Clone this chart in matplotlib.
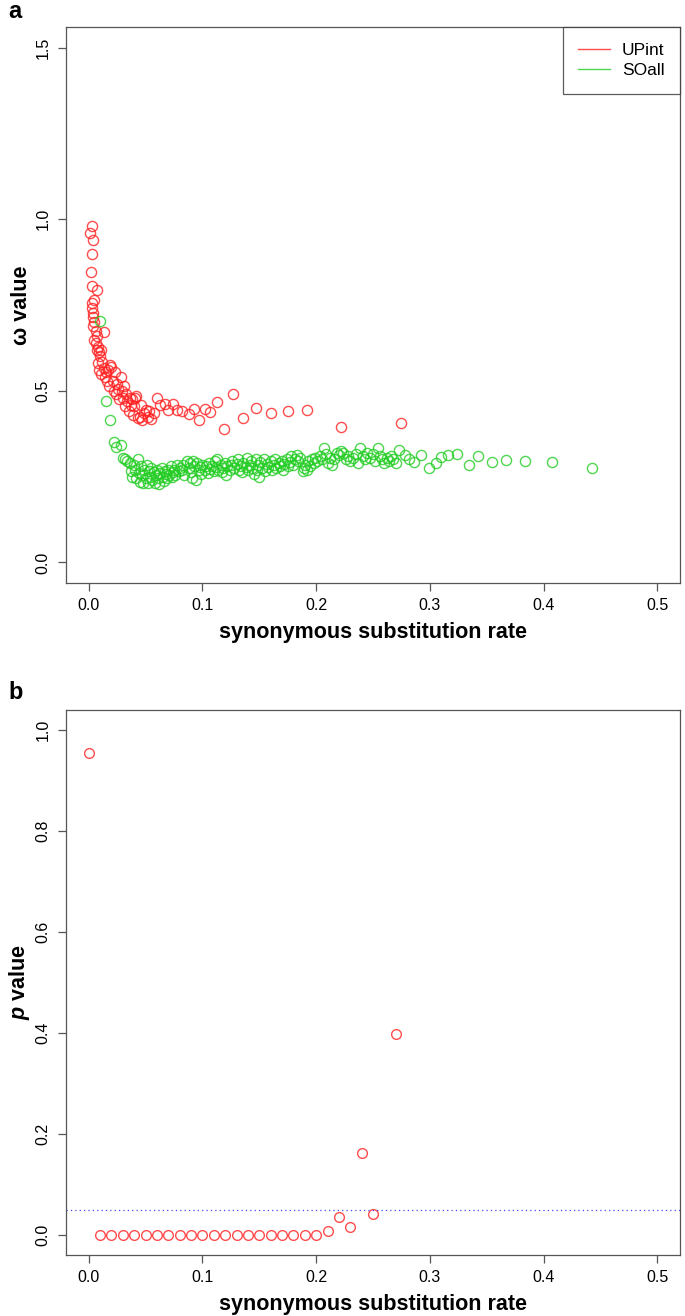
import numpy as np
import matplotlib.pyplot as plt
from matplotlib.lines import Line2D

# ---------------------------------------------------------------------------
# Données panneau a : omega en fonction du taux de substitution synonyme
# ---------------------------------------------------------------------------

upint_ds = [0.001, 0.0026, 0.0035, 0.0026, 0.0018, 0.0026, 0.007, 0.0026, 0.005, 0.003,
            0.004, 0.004, 0.005, 0.004, 0.006, 0.007, 0.005, 0.006, 0.008, 0.007,
            0.009, 0.010, 0.011, 0.013, 0.012, 0.008, 0.009, 0.011, 0.013, 0.014,
            0.015, 0.016, 0.017, 0.018, 0.019, 0.020, 0.021, 0.022, 0.023, 0.024,
            0.025, 0.026, 0.027, 0.028, 0.029, 0.030, 0.031, 0.032, 0.033, 0.034,
            0.035, 0.036, 0.037, 0.038, 0.039, 0.040, 0.041, 0.042, 0.043, 0.045,
            0.046, 0.047, 0.049, 0.050, 0.052, 0.053, 0.055, 0.057, 0.060, 0.063,
            0.067, 0.070, 0.074, 0.078, 0.082, 0.088, 0.093, 0.097, 0.102, 0.107,
            0.113, 0.119, 0.127, 0.136, 0.147, 0.160, 0.175, 0.192, 0.222, 0.275]
upint_w = [0.960, 0.979, 0.939, 0.899, 0.846, 0.806, 0.794, 0.757, 0.765, 0.742,
           0.728, 0.715, 0.700, 0.688, 0.675, 0.660, 0.648, 0.638, 0.628, 0.618,
           0.612, 0.600, 0.620, 0.670, 0.585, 0.580, 0.560, 0.548, 0.565, 0.540,
           0.555, 0.530, 0.560, 0.515, 0.575, 0.570, 0.530, 0.500, 0.555, 0.490,
           0.520, 0.505, 0.475, 0.540, 0.500, 0.480, 0.515, 0.455, 0.490, 0.470,
           0.440, 0.480, 0.460, 0.475, 0.430, 0.455, 0.480, 0.485, 0.420, 0.424,
           0.460, 0.415, 0.435, 0.445, 0.425, 0.440, 0.418, 0.435, 0.480, 0.459,
           0.463, 0.445, 0.463, 0.443, 0.440, 0.431, 0.446, 0.414, 0.446, 0.437,
           0.466, 0.389, 0.492, 0.421, 0.450, 0.436, 0.442, 0.445, 0.395, 0.407]

soall_ds = [0.0096, 0.015, 0.019, 0.022, 0.024, 0.028, 0.030, 0.032, 0.034, 0.036,
            0.037, 0.038, 0.040, 0.041, 0.042, 0.043, 0.044, 0.045, 0.046, 0.047,
            0.048, 0.049, 0.050, 0.051, 0.052, 0.053, 0.054, 0.055, 0.056, 0.057,
            0.058, 0.059, 0.060, 0.061, 0.062, 0.063, 0.064, 0.065, 0.066, 0.067,
            0.068, 0.069, 0.070, 0.071, 0.072, 0.073, 0.074, 0.075, 0.076, 0.078,
            0.079, 0.080, 0.082, 0.083, 0.084, 0.086, 0.088, 0.089, 0.090, 0.091,
            0.092, 0.093, 0.094, 0.095, 0.097, 0.098, 0.099, 0.100, 0.102, 0.103,
            0.105, 0.106, 0.107, 0.108, 0.110, 0.111, 0.112, 0.113, 0.114, 0.116,
            0.117, 0.118, 0.120, 0.121, 0.122, 0.124, 0.125, 0.126, 0.128, 0.130,
            0.131, 0.132, 0.134, 0.135, 0.136, 0.138, 0.139, 0.140, 0.142, 0.143,
            0.144, 0.145, 0.147, 0.148, 0.149, 0.150, 0.151, 0.152, 0.154, 0.155,
            0.157, 0.158, 0.160, 0.161, 0.163, 0.164, 0.165, 0.167, 0.168, 0.170,
            0.171, 0.172, 0.174, 0.175, 0.177, 0.178, 0.180, 0.181, 0.183, 0.184,
            0.186, 0.188, 0.189, 0.190, 0.192, 0.193, 0.195, 0.196, 0.198, 0.199,
            0.201, 0.203, 0.205, 0.207, 0.209, 0.210, 0.212, 0.214, 0.216, 0.218,
            0.220, 0.222, 0.224, 0.226, 0.228, 0.230, 0.232, 0.235, 0.237, 0.239,
            0.241, 0.243, 0.245, 0.247, 0.250, 0.252, 0.254, 0.256, 0.258, 0.260,
            0.262, 0.264, 0.266, 0.268, 0.270, 0.273, 0.278, 0.282, 0.286, 0.292,
            0.299, 0.305, 0.310, 0.316, 0.324, 0.334, 0.342, 0.355, 0.367, 0.384,
            0.407, 0.443]
soall_w = [0.704, 0.471, 0.415, 0.351, 0.337, 0.343, 0.305, 0.300, 0.295, 0.290,
           0.265, 0.250, 0.285, 0.270, 0.245, 0.300, 0.260, 0.235, 0.280, 0.255,
           0.230, 0.270, 0.245, 0.285, 0.232, 0.265, 0.250, 0.275, 0.240, 0.262,
           0.230, 0.255, 0.270, 0.245, 0.228, 0.260, 0.275, 0.250, 0.238, 0.265,
           0.258, 0.245, 0.270, 0.255, 0.280, 0.248, 0.262, 0.270, 0.255, 0.285,
           0.265, 0.275, 0.268, 0.285, 0.255, 0.295, 0.275, 0.290, 0.262, 0.245,
           0.295, 0.280, 0.240, 0.290, 0.268, 0.278, 0.258, 0.285, 0.270, 0.280,
           0.260, 0.290, 0.272, 0.282, 0.265, 0.295, 0.278, 0.300, 0.270, 0.285,
           0.262, 0.275, 0.290, 0.255, 0.280, 0.268, 0.285, 0.295, 0.275, 0.288,
           0.300, 0.270, 0.282, 0.262, 0.290, 0.278, 0.305, 0.268, 0.285, 0.295,
           0.275, 0.258, 0.300, 0.268, 0.285, 0.250, 0.292, 0.275, 0.300, 0.265,
           0.288, 0.278, 0.295, 0.270, 0.285, 0.300, 0.275, 0.290, 0.282, 0.295,
           0.270, 0.288, 0.302, 0.280, 0.292, 0.310, 0.285, 0.300, 0.312, 0.295,
           0.305, 0.265, 0.275, 0.285, 0.270, 0.295, 0.280, 0.300, 0.290, 0.305,
           0.295, 0.310, 0.300, 0.334, 0.315, 0.290, 0.305, 0.285, 0.300, 0.320,
           0.312, 0.325, 0.318, 0.300, 0.310, 0.295, 0.305, 0.315, 0.290, 0.334,
           0.310, 0.300, 0.320, 0.305, 0.315, 0.295, 0.334, 0.310, 0.300, 0.290,
           0.305, 0.295, 0.310, 0.300, 0.290, 0.328, 0.313, 0.300, 0.293, 0.313,
           0.276, 0.290, 0.307, 0.313, 0.316, 0.284, 0.310, 0.293, 0.299, 0.296,
           0.293, 0.276]

# ---------------------------------------------------------------------------
# Données panneau b : p value
# ---------------------------------------------------------------------------

p_ds = [0.00, 0.01, 0.02, 0.03, 0.04, 0.05, 0.06, 0.07, 0.08, 0.09, 0.10,
        0.11, 0.12, 0.13, 0.14, 0.15, 0.16, 0.17, 0.18, 0.19, 0.20,
        0.21, 0.22, 0.23, 0.24, 0.25, 0.27]
p_val = [0.955, 0, 0, 0, 0, 0, 0, 0, 0, 0, 0,
         0, 0, 0, 0, 0, 0, 0, 0, 0, 0,
         0.008, 0.036, 0.015, 0.162, 0.042, 0.398]
seuil = 0.05

x_ticks = [0.0, 0.1, 0.2, 0.3, 0.4, 0.5]
y_ticks_a = [0.0, 0.5, 1.0, 1.5]
y_ticks_b = [0.0, 0.2, 0.4, 0.6, 0.8, 1.0]

rouge = '#ff2020'
vert = '#22cc22'
gris = '#555555'

plt.rcParams['font.family'] = ['Liberation Sans', 'DejaVu Sans']
plt.rcParams['mathtext.fontset'] = 'custom'
plt.rcParams['mathtext.it'] = 'Liberation Sans:italic:bold'
plt.rcParams['mathtext.rm'] = 'Liberation Sans:bold'

fig = plt.figure(figsize=(6.85, 13.16), dpi=100)
W, H = 685, 1316


def axes_px(left, top, right, bottom):
    return fig.add_axes([left / W, 1 - bottom / H, (right - left) / W, (bottom - top) / H])


def style_axes(ax, yticks):
    for sp in ax.spines.values():
        sp.set_color(gris)
        sp.set_linewidth(0.9)
    ax.set_xticks(x_ticks)
    ax.set_xticklabels([f'{t:.1f}' for t in x_ticks])
    ax.set_yticks(yticks)
    ax.set_yticklabels([f'{t:.1f}' for t in yticks], rotation=90, va='center')
    ax.tick_params(direction='out', length=6, width=0.9, color=gris, labelsize=11.5, pad=5)
    ax.set_xlim(-0.02, 0.52)
    ax.set_xlabel('synonymous substitution rate', fontsize=15.5, fontweight='bold', labelpad=6)


# ============================== Panneau a ==================================
ax1 = axes_px(66, 27, 680, 583)
ax1.plot(upint_ds, upint_w, 'o', mfc='none', mec=rouge, ms=7.3, mew=1.0, alpha=0.8)
ax1.plot(soall_ds, soall_w, 'o', mfc='none', mec=vert, ms=7.3, mew=1.0, alpha=0.8)
style_axes(ax1, y_ticks_a)
ax1.set_ylim(-0.06, 1.56)
ax1.set_ylabel('ω value', fontsize=15.5, fontweight='bold')
ax1.yaxis.set_label_coords(-0.055, 0.5)

handles = [Line2D([], [], color=rouge, lw=1.0, alpha=0.8),
           Line2D([], [], color=vert, lw=1.0, alpha=0.8)]
leg = ax1.legend(handles, ['UPint', 'SOall'], loc='upper right', fontsize=12.5,
                 frameon=True, fancybox=False, borderaxespad=0, handlelength=1.8,
                 handletextpad=0.7, borderpad=0.9, labelspacing=0.3)
leg.get_frame().set_edgecolor('#333333')
leg.get_frame().set_linewidth(0.9)

fig.text(8 / W, 1 - 12 / H, 'a', fontsize=17, fontweight='bold', va='center', ha='left')

# ============================== Panneau b ==================================
ax2 = axes_px(66, 710, 680, 1255)
ax2.plot(p_ds, p_val, 'o', mfc='none', mec=rouge, ms=7, mew=1.0, alpha=0.8)
ax2.axhline(seuil, color='#4444ff', lw=0.9, linestyle=(0, (1, 2.5)))
style_axes(ax2, y_ticks_b)
ax2.set_ylim(-0.04, 1.04)
ax2.set_ylabel('$p$ value', fontsize=15.5, fontweight='bold')
ax2.yaxis.set_label_coords(-0.055, 0.5)

fig.text(8 / W, 1 - 693 / H, 'b', fontsize=17, fontweight='bold', va='center', ha='left')

fig.savefig('out.png', dpi=100)
